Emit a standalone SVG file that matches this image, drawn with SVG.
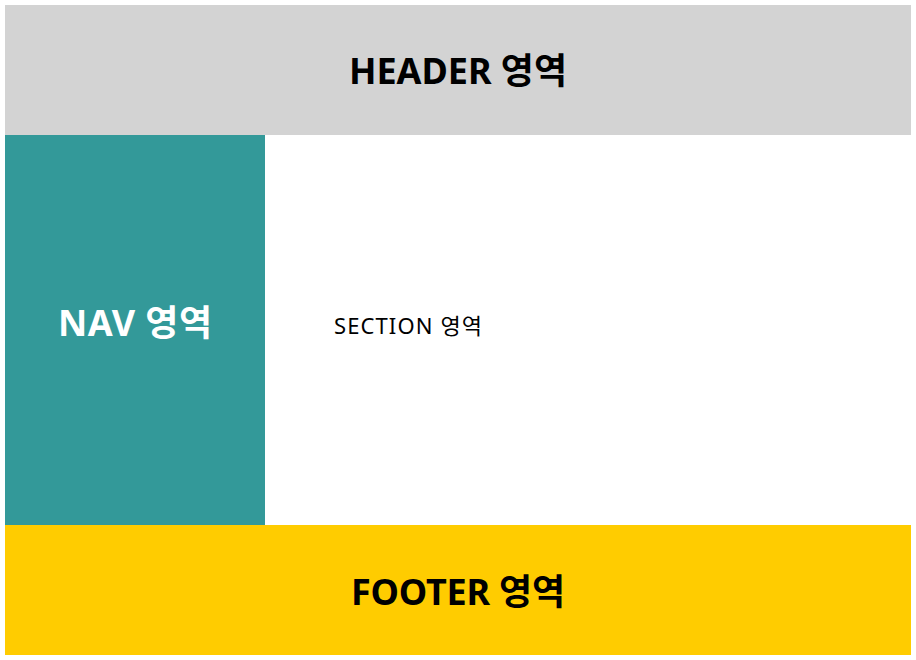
<svg xmlns="http://www.w3.org/2000/svg" width="916" height="660" viewBox="0 0 916 660">
<style>
.t{font-family:"Noto Sans","Noto Sans CJK KR",sans-serif}
.b{font-weight:bold;font-size:36px;text-anchor:middle}
</style>
<rect x="0" y="0" width="916" height="660" fill="#ffffff"/>
<g id="header"><rect x="5" y="5" width="906" height="130" fill="#d3d3d3"/><text class="t b" x="458" y="84" fill="#000" textLength="218" lengthAdjust="spacing">HEADER 영역</text></g>
<g id="nav"><rect x="5" y="135" width="260" height="390" fill="#339999"/><text class="t b" x="135" y="336" fill="#fff" textLength="154" lengthAdjust="spacing">NAV 영역</text></g>
<g id="section"><rect x="265" y="135" width="646" height="390" fill="#ffffff"/><text class="t" x="334" y="334" font-size="22" fill="#000" textLength="148" lengthAdjust="spacing">SECTION 영역</text></g>
<g id="footer"><rect x="5" y="525" width="906" height="130" fill="#ffcc00"/><text class="t b" x="458" y="605" fill="#000" textLength="214" lengthAdjust="spacing">FOOTER 영역</text></g>
<g id="connectors"></g>
</svg>
